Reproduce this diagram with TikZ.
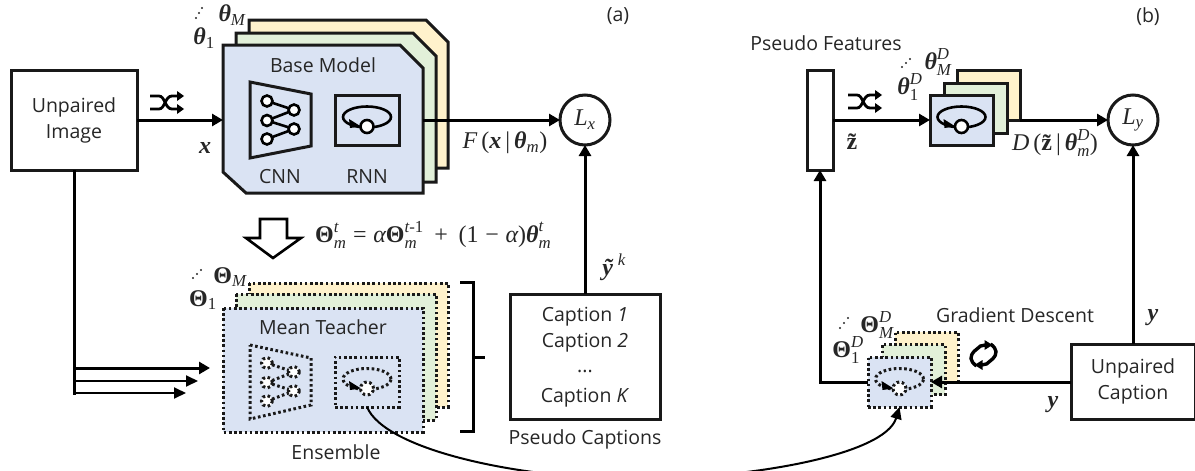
\documentclass[tikz,border=0pt]{standalone}
\usepackage{amsmath}
\usepackage{fontspec}
\setmainfont{Open Sans}
\newfontfamily\mfont{Liberation Serif}
\usetikzlibrary{arrows.meta}
\newcommand{\bth}{\text{\mfont\bfseries\itshape θ}}
\newcommand{\bTh}{\text{\mfont\bfseries Θ}}
\newcommand{\mi}[1]{\text{\mfont\itshape #1}}
\newcommand{\bi}[1]{\text{\mfont\bfseries\itshape #1}}
\newcommand{\mr}[1]{\text{\mfont #1}}
\newcommand{\bu}[1]{\text{\mfont\bfseries #1}}
\tikzset{
  x=1pt,y=-1pt,
  txt/.style={inner sep=0pt,font=\fontsize{19.5}{24}\selectfont,text=black!85},
  mth/.style={inner sep=0pt,font=\fontsize{24}{26}\selectfont,text=black!85},
  box/.style={draw=black!90,line width=3pt,fill=white,inner sep=0pt,outer sep=0pt,align=center},
  wire/.style={draw=black,line width=3pt},
  arr/.style={wire,-{Triangle[length=11pt,width=12pt]}},
  thinwire/.style={draw=black,line width=2pt,-{Triangle[length=12pt,width=11pt]}},
  solidp/.style={draw=black!90,line width=3pt,line join=miter},
  dotp/.style={draw=black!90,line width=3pt,dash pattern=on 2.6pt off 2.6pt},
  bluef/.style={fill=blueC},greenf/.style={fill=greenC},yellowf/.style={fill=yellowC},
  card/.style={inner sep=0pt,outer sep=0pt},
  neuron/.style={circle,fill=white,inner sep=0pt,minimum size=11pt,outer sep=0pt},
  smalldot/.style={circle,fill=black!85,inner sep=0pt,minimum size=2.4pt},
  shuffleicon/.pic={
    \draw[line width=2.8pt,line cap=butt] (0,4) -- (9,4) .. controls (15,4) and (15,17) .. (22,17) -- (28,17);
    \draw[line width=2.8pt] (0,17) -- (9,17) .. controls (15,17) and (15,4) .. (22,4) -- (28,4);
    \fill (27,-1) -- (34,4) -- (27,9) -- cycle;
    \fill (27,12) -- (34,17) -- (27,22) -- cycle;
  },
  refreshicon/.pic={
    \draw[line width=3.4pt] (-7,11) .. controls (-14,6) and (-14,1) .. (-9,-4) -- (-3,-9) .. controls (-1,-10) and (0,-10) .. (2,-10);
    \fill (1,-15) -- (9,-10) -- (1,-5) -- cycle;
    \draw[line width=3.4pt] (7,-11) .. controls (14,-6) and (14,-1) .. (9,4) -- (3,9) .. controls (1,10) and (0,10) .. (-2,10);
    \fill (-1,15) -- (-9,10) -- (-1,5) -- cycle;
  },
}
\definecolor{blueC}{HTML}{DAE3F3}
\definecolor{greenC}{HTML}{E2F0D9}
\definecolor{yellowC}{HTML}{FFF2CC}
\newcommand{\cnn}[2]{% #1 y offset, #2 style
  \node[neuron,#2] (#1a) at (267,#1+101) {};
  \node[neuron,#2] (#1b) at (267,#1+120.5) {};
  \node[neuron,#2] (#1c) at (267,#1+139) {};
  \node[neuron,#2] (#1d) at (294,#1+110) {};
  \node[neuron,#2] (#1e) at (294,#1+129) {};
  \draw[#2] (#1a) -- (#1d);
  \draw[#2] (#1b) -- (#1d);
  \draw[#2] (#1b) -- (#1e);
  \draw[#2] (#1c) -- (#1e);
}
\newcommand{\rnnglyph}[3]{% x, y centre, style
  \draw[#3] (#1,#2-3) circle[x radius=24pt,y radius=10.5pt];
  \fill[black] (#1-18,#2-1) -- (#1-6,#2+6.5) -- (#1-17,#2+8) -- cycle;
  \node[neuron,minimum size=13pt,draw=black,#3] at (#1,#2+6.5) {};
}
\begin{document}
\begin{tikzpicture}
\useasboundingbox (0,0) rectangle (1195,471);
% ---------- (a) left
\node[box,txt,minimum width=126pt,minimum height=100pt] (img) at (74,120) {Unpaired\\[2pt]Image};
\pic at (150,92) {shuffleicon};
\coordinate (base-w) at (223,120);
\coordinate (base-e) at (423,120);
\draw[solidp,yellowf] (249,20) -- (426,20) -- (448,42) -- (448,168) -- (249,168) -- cycle;
\draw[solidp,greenf] (236,33) -- (413,33) -- (436,56) -- (436,182) -- (236,182) -- cycle;
\draw[solidp,bluef] (223,45) -- (400,45) -- (423,68) -- (423,193) -- (246,193) -- (223,172) -- cycle;
\node[txt] (basettl) at (323,65) {Base Model};
\node[txt] (cnnl) at (280,177) {CNN};
\node[txt] (rnnl) at (367,177) {RNN};
\draw[solidp] (250,82) -- (311,94) -- (311,146) -- (250,158) -- cycle;
\cnn{0}{draw=black,line width=2.6pt}
\node[box,fill=none,minimum width=64pt,minimum height=50pt] (rnn) at (367,120) {};
\rnnglyph{367}{120}{draw=black,line width=2.6pt}
\draw[arr] (img.east |- base-w) -- (base-w);
\node[mth] (x) at (205,148) {$\bi{x}$};
\node[mth] (tM) at (232,15) {$\bth_{\mi{M}}$};
\node[mth] (t1) at (204,38) {$\bth_{\mr{1}}$};
\foreach \a/\b in {196/18,199/13,202/8}{\node[smalldot] at (\a,\b) {};}
\node[circle,box,minimum size=50pt] (Lx) at (585,120) {};
\node[mth] at (Lx) {$\mi{L}_{\mi{x}}$};
\draw[arr] (base-e) -- (Lx.west);
\node[mth] (Fx) at (505,143) {$\mi{F}\mr{\,(}\bi{x}\mr{\,|\,}\bth_{\mi{m}}\mr{)}$};
\node[txt] (a) at (618,16) {(a)};
% big arrow
\draw[draw=black,line width=2.6pt,fill=white] (260,219) -- (287,219) -- (287,238) -- (301,238) -- (273,258) -- (246,238) -- (260,238) -- cycle;
\node[mth,anchor=west] (eq) at (315,235) {$\bTh_{\mi{m}}^{\mi{t}}\mr{\;=\;}\mi{α}\bTh_{\mi{m}}^{\mi{t}\mr{-1}}\mr{\;\,+\;\,(1\;−\;}\mi{α}\mr{)}\bth_{\mi{m}}^{\mi{t}}$};
% ensemble
\draw[dotp,yellowf] (249,283) rectangle (448,407);
\draw[dotp,greenf] (236,294) rectangle (436,420);
\draw[dotp,bluef] (223,308) rectangle (423,432);
\node[txt] (mt) at (323,327) {Mean Teacher};
\node[txt] (ens) at (336,452) {Ensemble};
\draw[dotp] (250,345) -- (311,358) -- (311,405) -- (250,419) -- cycle;
\cnn{262}{dotp}
\node[dotp,fill=none,inner sep=0pt,outer sep=0pt,minimum width=64pt,minimum height=50pt] (rnnm) at (367,382) {};
\rnnglyph{367}{382}{dotp}
\node[mth] (TM) at (230,277) {$\bTh_{\mi{M}}$};
\node[mth] (T1) at (203,300) {$\bTh_{\mr{1}}$};
\foreach \a/\b in {193/278,197/274,201/270}{\node[smalldot] at (\a,\b) {};}
\coordinate (e1) at (210,368); \coordinate (e2) at (198,381); \coordinate (e3) at (186,393);
\draw[wire] (img.south -| 74,0) -- (74,394.5);
\draw[arr] (74,368) -- (e1);
\draw[thinwire] (74,381) -- (e2);
\draw[thinwire] (73,393) -- (e3);
% bracket
\draw[draw=black,line width=3pt] (460,282) -- (473,282) -- (473,431) -- (460,431);
\draw[draw=black,line width=3pt] (473,357) -- (485,357);
% captions
\node[box,minimum width=150pt,minimum height=125pt] (cap) at (585,356.5) {};
\node[txt] (c1) at (585,317) {Caption \textit{1}};
\node[txt] (c2) at (585,343) {Caption \textit{2}};
\node[txt] (c3) at (585,371) {...};
\node[txt] (c4) at (585,398) {Caption \textit{K}};
\node[txt] (pc) at (585,439) {Pseudo Captions};
\draw[arr] (cap.north) -- (Lx.south);
\node[mth] (yk) at (614,267) {$\bi{ỹ}^{\;\mi{k}}$};
% ---------- (b)
\node[box,minimum width=26pt,minimum height=100pt] (pf) at (820,120) {};
\node[txt] (pft) at (826,43) {Pseudo Features};
\pic at (848,91) {shuffleicon};
\node[card,solidp,yellowf,minimum width=63pt,minimum height=50pt] (dy) at (988.5,95) {};
\node[card,solidp,greenf,minimum width=63pt,minimum height=50pt] (dg) at (975.5,108) {};
\node[card,solidp,bluef,minimum width=63pt,minimum height=50pt] (db) at (961.5,120) {};
\rnnglyph{961.5}{120}{draw=black,line width=2.6pt}
\draw[arr] (pf.east) -- (db.west);
\node[mth] (z) at (852,142) {$\bu{z̃}$};
\node[mth] (dM) at (938,62) {$\bth_{\mi{M}}^{\mi{D}}$};
\node[mth] (d1) at (910,87) {$\bth_{\mr{1}}^{\mi{D}}$};
\foreach \a/\b in {902/67,906/63,910/59}{\node[smalldot] at (\a,\b) {};}
\node[circle,box,minimum size=50pt] (Ly) at (1133,120) {};
\node[mth] at (Ly) {$\mi{L}_{\mi{y}}$};
\draw[arr] (dy.south east) -- (Ly.west);
\node[mth] (Dz) at (1055,143) {$\mi{D}\mr{\,(}\bu{z̃}\mr{\,|\,}\bth_{\mi{m}}^{\mi{D}}\mr{)}$};
\node[txt] (b) at (1148,17) {(b)};
\node[box,txt,minimum width=124pt,minimum height=75pt] (uc) at (1133,381.5) {Unpaired\\[2pt]Caption};
\draw[arr] (uc.north) -- (Ly.south);
\node[mth] (y1) at (1153,318) {$\bi{y}$};
\node[mth] (y2) at (1053,405) {$\bi{y}$};
\node[txt] (gd) at (1015,315) {Gradient Descent};
\pic at (983.5,355) {refreshicon};
\node[card,dotp,yellowf,minimum width=63pt,minimum height=50pt] (my) at (926.5,357) {};
\node[card,dotp,greenf,minimum width=63pt,minimum height=50pt] (mg) at (913.5,369.5) {};
\node[card,dotp,bluef,minimum width=63pt,minimum height=50pt] (mb) at (899.5,382) {};
\rnnglyph{899.5}{382}{dotp}
\draw[arr] (uc.west |- mb.east) -- (mb.east);
\draw[wire] (mb.west) -- (820,382);
\draw[arr] (820,383.5) -- (pf.south);
\node[mth] (mM) at (877,325) {$\bTh_{\mi{M}}^{\mi{D}}$};
\node[mth] (m1) at (848,350) {$\bTh_{\mr{1}}^{\mi{D}}$};
\foreach \a/\b in {840/328,844/323,848/318}{\node[smalldot] at (\a,\b) {};}
% long curve
\begin{scope}
\clip (0,0) rectangle (1195,471);
\draw[draw=black,line width=2pt,-{Triangle[length=12pt,width=11pt]}] (rnnm.south) .. controls (385,450) and (520,479) .. (635,479) .. controls (750,479) and (885,455) .. (mb.south);
\end{scope}
\end{tikzpicture}
\end{document}
